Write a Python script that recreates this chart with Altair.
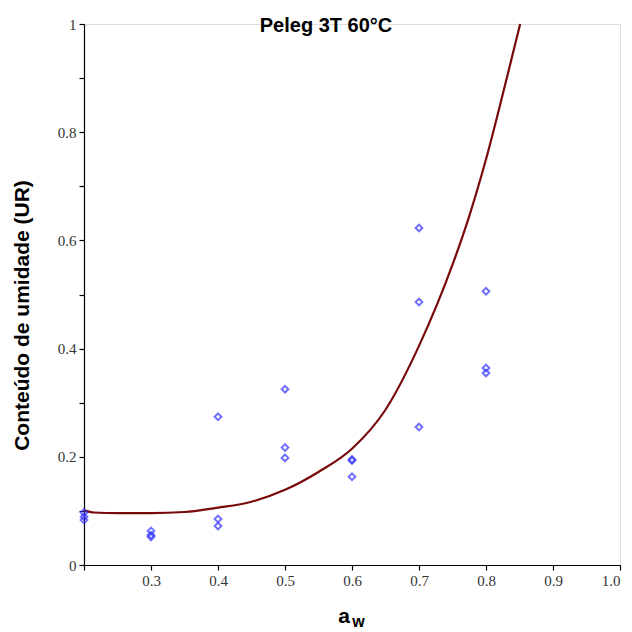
import altair as alt
import pandas as pd

# Observed points (a_w, moisture content)
pt_aw = [0.2, 0.2, 0.2, 0.3, 0.3, 0.3, 0.4, 0.4, 0.4, 0.5, 0.5, 0.5,
         0.6, 0.6, 0.6, 0.7, 0.7, 0.7, 0.8, 0.8, 0.8]
pt_m = [0.097, 0.089, 0.083, 0.063, 0.055, 0.052, 0.274, 0.085, 0.072,
        0.325, 0.217, 0.198, 0.195, 0.193, 0.163, 0.623, 0.486, 0.255,
        0.506, 0.364, 0.355]

# Fitted Peleg curve
cv_aw = [0.200, 0.215, 0.25, 0.30, 0.35, 0.40, 0.45, 0.50, 0.55, 0.60,
         0.65, 0.70, 0.75, 0.775, 0.80, 0.825, 0.851]
cv_m = [0.101, 0.097, 0.096, 0.096, 0.098, 0.106, 0.117, 0.139, 0.172,
        0.215, 0.287, 0.405, 0.555, 0.645, 0.750, 0.870, 1.0]

x_ticks = [0.2, 0.25, 0.3, 0.35, 0.4, 0.45, 0.5, 0.55, 0.6, 0.65, 0.7,
           0.75, 0.8, 0.85, 0.9, 0.95, 1.0]
y_ticks = [0, 0.1, 0.2, 0.3, 0.4, 0.5, 0.6, 0.7, 0.8, 0.9, 1.0]

title_text = "Peleg 3T 60°C"
y_title = "Conteúdo de umidade (UR)"

pts = pd.DataFrame({"aw": pt_aw, "m": pt_m})
cv = pd.DataFrame({"aw": cv_aw, "m": cv_m})

W, H = 536, 541

xscale = alt.Scale(domain=[0.2, 1.0], nice=False, zero=False)
yscale = alt.Scale(domain=[0, 1], nice=False)

xaxis = alt.Axis(
    values=x_ticks,
    labelExpr="(abs(datum.value*10 - round(datum.value*10)) < 0.01 && datum.value > 0.25) ? format(datum.value, '.1f') : ''",
    grid=False, domainColor="black", tickColor="black", tickSize=5,
    labelFont="Liberation Serif", labelFontSize=15, labelColor="#333",
    labelPadding=3, title=None, domainWidth=1.2, tickWidth=1.2,
)
yaxis = alt.Axis(
    values=y_ticks,
    labelExpr="(abs(datum.value*5 - round(datum.value*5)) < 0.01) ? (datum.value == 0 ? '0' : datum.value == 1 ? '1' : format(datum.value, '.1f')) : ''",
    grid=False, domainColor="black", tickColor="black", tickSize=5,
    labelFont="Liberation Serif", labelFontSize=15, labelColor="#333",
    labelPadding=3, domainWidth=1.2, tickWidth=1.2,
    title=y_title, titleFont="Liberation Sans", titleFontSize=21,
    titleFontWeight="bold", titleColor="black", titleX=-62, titleY=291,
    titleAngle=270, titleBaseline="middle", titleAlign="center",
)

line = alt.Chart(cv).mark_line(
    color="#7a0a0a", strokeWidth=2.2, interpolate="monotone"
).encode(
    x=alt.X("aw:Q", scale=xscale, axis=xaxis),
    y=alt.Y("m:Q", scale=yscale, axis=yaxis),
)

points = alt.Chart(pts).mark_point(
    shape="diamond", filled=False, color="#3535ff", strokeWidth=2, size=45,
).encode(
    x=alt.X("aw:Q", scale=xscale),
    y=alt.Y("m:Q", scale=yscale),
)

tdf = pd.DataFrame({"t": [title_text]})
title = alt.Chart(tdf).mark_text(
    font="Liberation Sans", fontSize=20, fontWeight="bold", color="black",
).encode(text="t:N", x=alt.value(242), y=alt.value(2))

adf = pd.DataFrame({"t": ["a"]})
a_lbl = alt.Chart(adf).mark_text(
    font="Liberation Sans", fontSize=21, fontWeight="bold", color="black",
    align="center", baseline="alphabetic",
).encode(text="t:N", x=alt.value(260), y=alt.value(599))

wdf = pd.DataFrame({"t": ["w"]})
w_lbl = alt.Chart(wdf).mark_text(
    font="Liberation Sans", fontSize=16, fontWeight="bold", color="black",
    align="center", baseline="alphabetic",
).encode(text="t:N", x=alt.value(274.5), y=alt.value(603))

chart = alt.layer(line, points, title, a_lbl, w_lbl).properties(
    width=W, height=H,
    autosize=alt.AutoSizeParams(type="none"),
    padding={"left": 84, "top": 24, "right": 12, "bottom": 67},
).configure_view(stroke=None).configure(background="white")

chart.save("out.html", embed_options={"renderer": "svg", "actions": False})
